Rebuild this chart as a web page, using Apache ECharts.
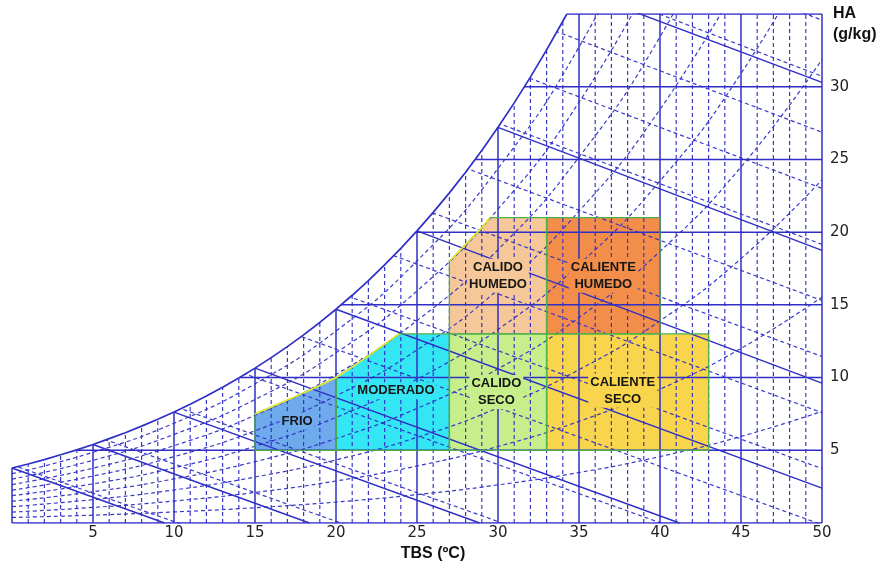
<!DOCTYPE html>
<html><head><meta charset="utf-8">
<script src="https://cdn.jsdelivr.net/npm/echarts@6/dist/echarts.min.js"></script>
<style>html,body{margin:0;padding:0;background:#fff}#c{width:885px;height:568px}</style>
</head><body><div id="c"></div>
<script>
// ---- Saturation curve: TBS (°C) -> HA (g/kg)
const satT = [0,1,2,3,4,5,6,7,8,9,10,11,12,13,14,15,16,17,18,19,20,21,22,23,24,25,26,27,28,29,30,31,32,33,34,34.25];
const satW = [3.78,4.06,4.36,4.69,5.03,5.40,5.80,6.21,6.66,7.13,7.63,8.17,8.73,9.33,9.97,10.65,11.37,12.13,12.94,13.79,14.70,15.66,16.67,17.75,18.88,20.09,21.36,22.70,24.12,25.62,27.21,28.89,30.66,32.53,34.50,35.0];

// ---- Relative-humidity curves (dashed), HA at TBS = 0,5,...,50
const rhT  = [0,5,10,15,20,25,30,35,40,45,50];
const rh10 = [0.38,0.54,0.76,1.05,1.44,1.95,2.62,3.47,4.57,5.95,7.68];
const rh20 = [0.75,1.07,1.51,2.10,2.89,3.92,5.26,6.99,9.20,12.01,15.54];
const rh30 = [1.13,1.61,2.27,3.16,4.34,5.89,7.92,10.54,13.90,18.18,23.61];
const rh40 = [1.50,2.15,3.03,4.22,5.80,7.88,10.60,14.13,18.68,24.48,31.88];
const rh50 = [1.88,2.69,3.79,5.28,7.26,9.88,13.31,17.77,23.52,30.91,40.37];
const rh60 = [2.26,3.23,4.56,6.34,8.74,11.90,16.04,21.44,28.44,37.46];
const rh70 = [2.64,3.77,5.32,7.41,10.22,13.92,18.80,25.16,33.43,44.15];
const rh80 = [3.02,4.31,6.09,8.49,11.70,15.96,21.58,28.93,38.51];
const rh90 = [3.39,4.86,6.86,9.57,13.20,18.02,24.38,32.73,43.66];

// ---- Solid wet-bulb lines (start on saturation, end on axis/edge)
const wbStartT = [0,5,10,15,20,25,30,35];
const wbStartW = [3.78,5.40,7.63,10.65,14.70,20.09,27.21,36.58];
const wbEndT   = [9.42,18.36,28.87,41.2,50,50,50,50];
const wbEndW   = [0,0,0,0,2.40,9.62,18.74,30.3];

// ---- Dashed enthalpy lines: HA at TBS=0 and TBS=50
const hW0  = [4.0,8.0,12.0,16.0,20.0,24.0,28.0,32.0,36.0,40.0,44.0,48.0,52.0,56.0];
const hW50 = [-15.5,-11.7,-7.83,-3.97,-0.12,3.74,7.59,11.45,15.30,19.16,23.01,26.87,30.72,34.58];

// ---- Grid values
const majorT = [0,5,10,15,20,25,30,35,40,45,50];
const majorW = [0,5,10,15,20,25,30,35];
const minorT = [1,2,3,4,6,7,8,9,11,12,13,14,16,17,18,19,21,22,23,24,26,27,28,29,31,32,33,34,36,37,38,39,41,42,43,44,46,47,48,49];
const xTickLabels = [5,10,15,20,25,30,35,40,45,50];
const yTickLabels = [5,10,15,20,25,30];

// ---- Comfort zones
const zoneNames = ['FRIO','MODERADO','CALIDO\nSECO','CALIENTE\nSECO','CALIDO\nHUMEDO','CALIENTE\nHUMEDO'];
const zoneT = [
  [15,20,20,17.5,15],
  [20,27,27,23.9,22,20],
  [27,33,33,27],
  [33,43,43,33],
  [27,33,33,29.5,29,28,27],
  [33,40,40,33]
];
const zoneW = [
  [5,5,10.0,8.7,7.5],
  [5,5,13,13,11.5,10.0],
  [5,5,13,13],
  [5,5,13,13],
  [13,13,21,21,20.3,19.15,18.0],
  [13,13,21,21]
];
const edgeT = [[15,17.5,20,22,23.9],[27,28,29,29.5]];
const edgeW = [[7.5,8.7,10.0,11.5,13.0],[18.0,19.15,20.3,21.0]];
const labelT = [17.6,23.7,29.9,37.7,30.0,36.5];
const labelW = [7.0,9.1,9.0,9.1,17.0,17.0];

// ---- styles
const zoneColors = ['#6faaec','#34e6f4','#c6ef8c','#f8d54c','#f6c798','#f28e4a'];
const BLUE = '#2f2fc6';

function join(segs){
  const out=[];
  segs.forEach((s,i)=>{ if(i) out.push(['-','-']); s.forEach(p=>out.push(p)); });
  return out;
}
const pairs = (ts, ws) => ts.map((t,i)=>[t, ws[i]]);

const dashedVert = join(minorT.map(t=>[[t,0],[t,35]]));
const dashedEnth = join(hW0.map((w,i)=>[[0,w],[50,hW50[i]]]));
const solidVert = join(majorT.map(t=>[[t,0],[t,35]]));
const solidHorz = join(majorW.map(w=>[[0,w],[50,w]]));
const wbSolid = join(wbStartT.map((t,i)=>[[t,wbStartW[i]],[wbEndT[i],wbEndW[i]]]));
const rhSets = [rh10,rh20,rh30,rh40,rh50,rh60,rh70,rh80,rh90];

const lineBase = {type:'line', showSymbol:false, symbol:'none', silent:true, animation:false, clip:true, connectNulls:false};
const dashStyle = {color:BLUE, width:1.2, type:[4,3], opacity:0.95};
const solidStyle = {color:BLUE, width:1.5};

const series = [];
// zones
series.push({
  type:'custom', coordinateSystem:'cartesian2d', z:1, silent:true, animation:false,
  data: labelT.map((t,i)=>[t,labelW[i]]),
  renderItem:(params, api)=>{
    const i = params.dataIndex;
    const pts = zoneT[i].map((t,k)=>api.coord([t, zoneW[i][k]]));
    return {type:'polygon', shape:{points:pts}, style:{fill:zoneColors[i]}};
  }
});
series.push(Object.assign({}, lineBase, {z:2, data:dashedVert, lineStyle:dashStyle}));
series.push(Object.assign({}, lineBase, {z:2, data:dashedEnth, lineStyle:dashStyle}));
rhSets.forEach(arr=>{
  series.push(Object.assign({}, lineBase, {z:2, smooth:true, data:pairs(rhT.slice(0,arr.length), arr), lineStyle:dashStyle}));
});
series.push(Object.assign({}, lineBase, {z:3, data:solidVert, lineStyle:solidStyle}));
series.push(Object.assign({}, lineBase, {z:3, data:solidHorz, lineStyle:solidStyle}));
series.push(Object.assign({}, lineBase, {z:3, data:wbSolid, lineStyle:{color:BLUE, width:1.4}}));
// zone borders
series.push({
  type:'custom', coordinateSystem:'cartesian2d', z:4, silent:true, animation:false,
  data: labelT.map((t,i)=>[t,labelW[i]]),
  renderItem:(params, api)=>{
    const i = params.dataIndex;
    const pts = zoneT[i].map((t,k)=>api.coord([t, zoneW[i][k]]));
    const children = [{type:'polygon', shape:{points:pts}, style:{fill:null, stroke:'#4fb04a', lineWidth:1.3}}];
    if (i===1 || i===4) {
      const e = i===1 ? 0 : 1;
      children.push({type:'polyline', shape:{points:edgeT[e].map((t,k)=>api.coord([t, edgeW[e][k]])), smooth:0.3},
        style:{fill:null, stroke:'#e8e830', lineWidth:1.6}});
    }
    return {type:'group', children};
  }
});
// white mask above saturation curve
series.push({
  type:'custom', coordinateSystem:'cartesian2d', z:5, silent:true, animation:false,
  data:[[0,35]],
  renderItem:(params, api)=>{
    const pts = satT.map((t,k)=>api.coord([t, satW[k]]));
    pts.push(api.coord([34.45, 35.8]));
    pts.push(api.coord([-1, 35.8]));
    pts.push(api.coord([-1, satW[0]]));
    return {type:'polygon', shape:{points:pts}, style:{fill:'#ffffff'}};
  }
});
// saturation curve
series.push(Object.assign({}, lineBase, {z:6, data:pairs(satT, satW), lineStyle:{color:BLUE, width:1.7}}));
// zone labels
series.push({
  type:'custom', coordinateSystem:'cartesian2d', z:7, silent:true, animation:false,
  data: labelT.map((t,i)=>[t,labelW[i]]),
  renderItem:(params, api)=>{
    const i = params.dataIndex;
    const p = api.coord([labelT[i], labelW[i]]);
    return {type:'text', x:p[0], y:p[1], style:{
      text:zoneNames[i], fill:'#161616', font:'bold 13px "Liberation Sans", Arial, sans-serif',
      align:'center', verticalAlign:'middle', lineHeight:17,
      backgroundColor:zoneColors[i], padding:[0,2]
    }};
  }
});

const chart = echarts.init(document.getElementById('c'), null, {renderer:'canvas'});
chart.setOption({
  animation:false,
  backgroundColor:'#ffffff',
  grid:{left:12, right:63, top:14, bottom:45, containLabel:false},
  xAxis:{
    type:'value', min:0, max:50, interval:5,
    axisLine:{show:false}, splitLine:{show:false}, axisTick:{show:false},
    axisLabel:{
      customValues:xTickLabels, margin:3, color:'#222',
      fontFamily:'DejaVu Sans', fontSize:15,
      formatter:v=> xTickLabels.indexOf(v)>=0 ? String(v) : ''
    }
  },
  yAxis:{
    type:'value', position:'right', min:0, max:35, interval:5,
    axisLine:{show:false}, splitLine:{show:false},
    axisTick:{show:true, customValues:yTickLabels, length:7, lineStyle:{color:BLUE, width:1.5}},
    axisLabel:{
      customValues:yTickLabels, margin:8, color:'#222',
      fontFamily:'DejaVu Sans', fontSize:15,
      formatter:v=> yTickLabels.indexOf(v)>=0 ? String(v) : ''
    }
  },
  graphic:[
    {type:'rect', z:-1, shape:{x:20, y:113, width:335, height:85}, style:{fill:'#fdfafc'}},
    {type:'text', x:833, y:14, style:{text:'HA', font:'bold 16px "Liberation Sans", Arial, sans-serif', fill:'#111', verticalAlign:'middle'}},
    {type:'text', x:833, y:35, style:{text:'(g/kg)', font:'bold 16px "Liberation Sans", Arial, sans-serif', fill:'#111', verticalAlign:'middle'}},
    {type:'text', x:433, y:554, style:{text:'TBS (ºC)', font:'bold 16px "Liberation Sans", Arial, sans-serif', fill:'#111', align:'center', verticalAlign:'middle'}}
  ],
  series
});
</script>
</body></html>
